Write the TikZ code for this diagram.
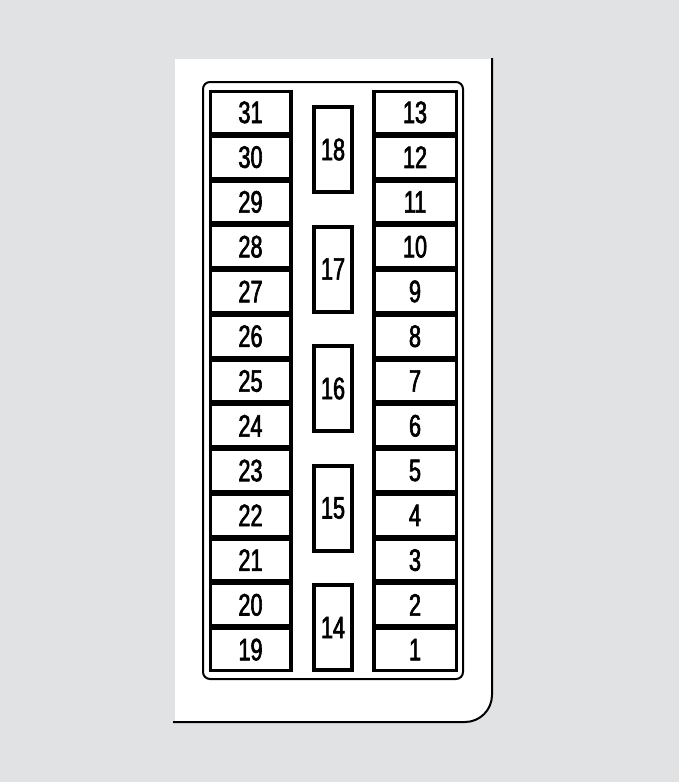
\documentclass[tikz,border=0pt]{standalone}
\usepackage{fontspec}
\setmainfont{Liberation Sans}[FakeStretch=0.7,FakeBold=2]
\definecolor{bggray}{HTML}{E1E2E4}
\begin{document}
\begin{tikzpicture}[x=1pt,y=-1pt,
  cell/.style={fill=white,inner sep=0pt,minimum width=77pt,minimum height=38.8pt,
    font=\fontsize{31}{31}\selectfont},
  midfuse/.style={draw=black,fill=white,line width=4pt,inner sep=0pt,minimum width=38pt,
    minimum height=85pt,font=\fontsize{31}{31}\selectfont},
  frame/.style={draw=black,line width=2pt}]
\fill[bggray] (0,0) rectangle (679,782);
\useasboundingbox (0,0) rectangle (679,782);
% panel
\fill[white] (175,59) -- (492,59) [rounded corners=27pt] -- (492,722) [sharp corners] -- (175,722) -- cycle;
\draw[frame] (492,58) [rounded corners=27pt] -- (492,722) [sharp corners] -- (173,722);
% inner rounded frame
\draw[frame,rounded corners=7pt] (203,82) rectangle (463,679);
% column backgrounds
\fill[black] (209,90) rectangle (293,672);
\fill[black] (372,90) rectangle (458,672);
\pgfmathsetmacro{\p}{582/13}
\foreach \n [count=\i from 0] in {31,30,29,28,27,26,25,24,23,22,21,20,19}{
  \node[cell] (f\n) at (250.5,{90+(\i+0.5)*\p}) {\n};
}
\foreach \n [count=\i from 0] in {13,12,11,10,9,8,7,6,5,4,3,2,1}{
  \node[cell,minimum width=79pt] (f\n) at (415,{90+(\i+0.5)*\p}) {\n};
}
\foreach \n [count=\i from 0] in {18,17,16,15,14}{
  \node[midfuse] (f\n) at (333,{149.5+\i*119.5}) {\n};
}
\end{tikzpicture}
\end{document}
